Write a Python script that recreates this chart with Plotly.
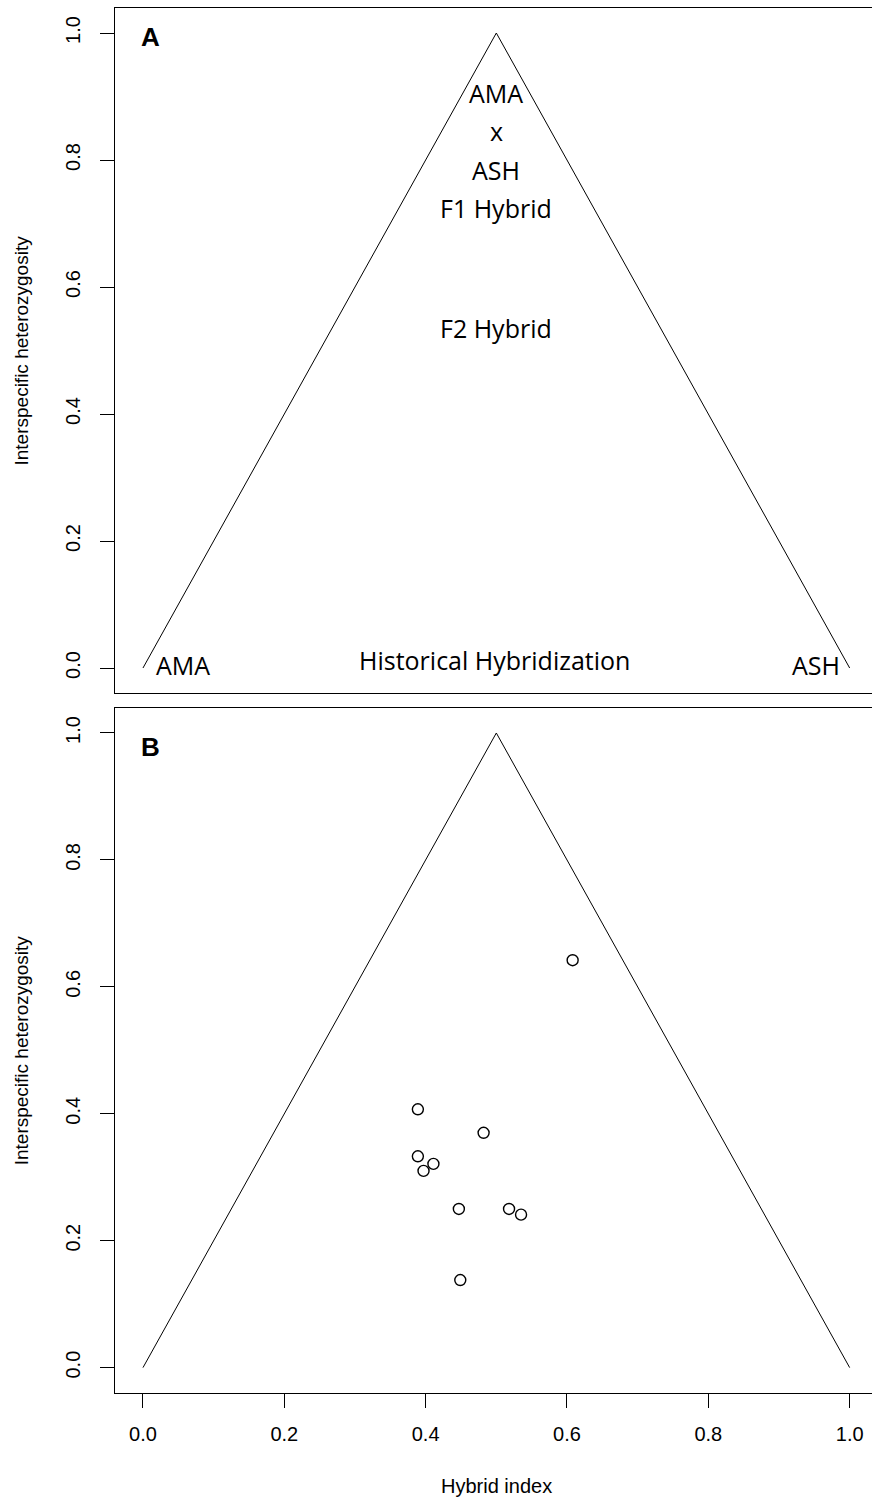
import plotly.graph_objects as go

# ---- data ----
tri_x = [0.0, 0.5, 1.0]
tri_y = [0.0, 1.0, 0.0]

pts_x = [0.608, 0.389, 0.482, 0.389, 0.411, 0.397, 0.447, 0.518, 0.535, 0.449]
pts_y = [0.642, 0.407, 0.370, 0.333, 0.321, 0.310, 0.250, 0.250, 0.241, 0.138]

label_text = ["AMA", "x", "ASH", "F1 Hybrid", "F2 Hybrid", "AMA", "ASH", "Historical Hybridization"]
label_x = [0.5, 0.5, 0.5, 0.5, 0.5, 0.057, 0.952, 0.498]
label_y = [0.905, 0.845, 0.785, 0.725, 0.535, 0.005, 0.005, 0.013]

tick_vals = [0.0, 0.2, 0.4, 0.6, 0.8, 1.0]
tick_text = ["0.0", "0.2", "0.4", "0.6", "0.8", "1.0"]

panel_letters = ["A", "B"]
x_title = "Hybrid index"
y_title = "Interspecific heterozygosity"

# ---- layout geometry (pixels) ----
W, H = 872, 1500
left_px = 114.7
yA = (7.6, 693.4)
yB = (707.6, 1393.0)
px_per_unit = 706.7
x_hi = -0.04 + (W - left_px) / px_per_unit

def dom(top, bot):
    return [1 - bot / H, 1 - top / H]

fig = go.Figure()

# panel A triangle
fig.add_trace(go.Scatter(x=tri_x, y=tri_y, mode="lines", line=dict(color="black", width=1),
                         xaxis="x", yaxis="y", showlegend=False, hoverinfo="skip"))
# panel B triangle
fig.add_trace(go.Scatter(x=tri_x, y=tri_y, mode="lines", line=dict(color="black", width=1),
                         xaxis="x2", yaxis="y2", showlegend=False, hoverinfo="skip"))
# panel B points
fig.add_trace(go.Scatter(x=pts_x, y=pts_y, mode="markers",
                         marker=dict(symbol="circle-open", size=11, color="black",
                                     line=dict(width=1.4, color="black")),
                         xaxis="x2", yaxis="y2", showlegend=False))

axis_font = dict(family="Liberation Sans, Arial, sans-serif", size=20, color="black")

common_y = dict(range=[-0.04, 1.04], tickvals=tick_vals, ticktext=tick_text, ticks="outside",
                ticklen=14, tickwidth=1, tickcolor="black", showline=True, linecolor="black",
                linewidth=1, mirror=False, showgrid=False, zeroline=False, tickangle=-90,
                tickfont=axis_font, ticklabelstandoff=12)

fig.update_layout(
    width=W, height=H,
    margin=dict(l=0, r=0, t=0, b=0),
    paper_bgcolor="white", plot_bgcolor="white",
    xaxis=dict(domain=[left_px / W, 1], range=[-0.04, x_hi], showticklabels=False, ticks="",
               showline=True, linecolor="black", linewidth=1, mirror=True, showgrid=False,
               zeroline=False, anchor="y"),
    yaxis=dict(domain=dom(*yA), anchor="x", **common_y),
    xaxis2=dict(domain=[left_px / W, 1], range=[-0.04, x_hi], tickvals=tick_vals, ticktext=tick_text,
                ticks="outside", ticklen=14, tickwidth=1, tickcolor="black", showline=True,
                linecolor="black", linewidth=1, mirror=True, showgrid=False, zeroline=False,
                tickfont=axis_font, ticklabelstandoff=9, anchor="y2"),
    yaxis2=dict(domain=dom(*yB), anchor="x2", **common_y),
)

annotations = []
label_font = dict(family="Open Sans, Noto Sans, sans-serif", size=25, color="black")
for t, lx, ly in zip(label_text, label_x, label_y):
    annotations.append(dict(text=t, x=lx, y=ly, xref="x", yref="y", showarrow=False,
                            xanchor="center", yanchor="middle", font=label_font))

letter_font = dict(family="Liberation Sans, Arial, sans-serif", size=26, color="black")
annotations.append(dict(text="<b>%s</b>" % panel_letters[0], x=0.011, y=0.994, xref="x", yref="y",
                        showarrow=False, xanchor="center", yanchor="middle", font=letter_font))
annotations.append(dict(text="<b>%s</b>" % panel_letters[1], x=0.011, y=0.978, xref="x2", yref="y2",
                        showarrow=False, xanchor="center", yanchor="middle", font=letter_font))

title_font = dict(family="Liberation Sans, Arial, sans-serif", size=19, color="black")
for (top, bot) in (yA, yB):
    annotations.append(dict(text=y_title, x=21 / W, y=1 - (top + bot) / 2 / H, xref="paper", yref="paper",
                            showarrow=False, textangle=-90, xanchor="center", yanchor="middle",
                            font=title_font))
annotations.append(dict(text=x_title, x=0.5, y=1 - 1486 / H, xref="x2", yref="paper", showarrow=False,
                        xanchor="center", yanchor="middle", font=dict(axis_font)))

fig.update_layout(annotations=annotations)

fig.write_html("out.html",
               config={"displayModeBar": False},
               post_script="document.body.style.margin='0px';document.body.style.overflow='hidden';")
